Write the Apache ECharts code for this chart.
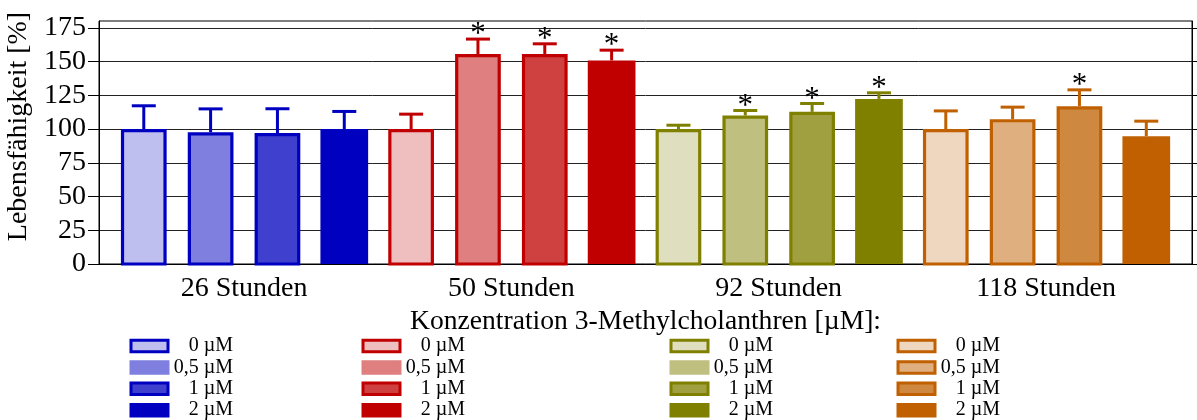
<!DOCTYPE html>
<html>
<head>
<meta charset="utf-8">
<script src="https://cdn.jsdelivr.net/npm/echarts@6/dist/echarts.min.js"></script>
<style>
  html, body { margin: 0; padding: 0; background: #fff; }
  #chart { width: 1197px; height: 420px; }
</style>
</head>
<body>
<div id="chart"></div>
<script>
// Incubation times (one group of four bars each)
const groups = ['26 Stunden', '50 Stunden', '92 Stunden', '118 Stunden'];
// 3-Methylcholanthrene concentrations within each group
const concentrations = ['0 µM', '0,5 µM', '1 µM', '2 µM'];
// Mean viability [%] per group and concentration
const viability = [
  [100, 97.6, 97, 100],
  [100, 155.5, 155.5, 150.8],
  [100, 110, 112.7, 122.3],
  [100, 107.3, 116.9, 94.7]
];
// Standard deviation (upper error bar)
const deviation = [
  [17.2, 17.3, 18, 13],
  [11, 11.1, 7.6, 7.6],
  [2.8, 3.7, 6.2, 4.5],
  [13.4, 8.9, 12.1, 11.1]
];
// Significant difference to control (asterisk)
const significant = [
  [0, 0, 0, 0],
  [0, 1, 1, 1],
  [0, 1, 1, 1],
  [0, 0, 1, 0]
];
// Y axis tick values
const yTicks = [0, 25, 50, 75, 100, 125, 150, 175];

// Colours: outline per group, fill shades per concentration
const edgeColors = ['#0000C0', '#C00000', '#808000', '#C06000'];
const fillColors = [
  ['#BFBFEF', '#7F7FDF', '#4040CF', '#0000C0'],
  ['#EFBFBF', '#DF7F7F', '#CF4040', '#C00000'],
  ['#DFDFBF', '#BFBF7F', '#A0A040', '#808000'],
  ['#EFD7BF', '#DFAF7F', '#CF8840', '#C06000']
];
// Which legend swatches carry an outline
const legendOutlined = [
  [1, 0, 1, 0],
  [1, 0, 1, 0],
  [1, 0, 1, 0],
  [1, 1, 1, 0]
];

const FONT = "'Liberation Serif', 'Times New Roman', serif";
const SLOT_OUTLINED = 0.684;   // bar width as fraction of one slot
const SLOT_SOLID = 0.714;
const BORDER = 3.2;
const CAP = 24;

const seriesName = (g, c) => groups[g] + ' / ' + concentrations[c];

const series = [];
groups.forEach((gName, g) => {
  concentrations.forEach((cName, c) => {
    const idx = g * 4 + c;
    const outlined = c < 3;
    series.push({
      type: 'custom',
      name: seriesName(g, c),
      xAxisIndex: 0,
      yAxisIndex: 0,
      itemStyle: { color: fillColors[g][c] },
      data: [[idx, viability[g][c], deviation[g][c], significant[g][c]]],
      renderItem: function (params, api) {
        const x = api.value(0), v = api.value(1), sd = api.value(2), sig = api.value(3);
        const base = api.coord([x, 0]);
        const top = api.coord([x, v]);
        const up = api.coord([x, v + sd]);
        const w = api.size([outlined ? SLOT_OUTLINED : SLOT_SOLID, 0])[0];
        const cx = base[0];
        const children = [];
        if (outlined) {
          const h = BORDER / 2;
          children.push({
            type: 'rect',
            shape: { x: cx - w / 2 + h, y: top[1] + h, width: w - BORDER, height: base[1] - top[1] - h },
            style: { fill: fillColors[g][c], stroke: edgeColors[g], lineWidth: BORDER }
          });
        } else {
          children.push({
            type: 'rect',
            shape: { x: cx - w / 2, y: top[1], width: w, height: base[1] - top[1] },
            style: { fill: fillColors[g][c] }
          });
        }
        // error bar: stem and cap
        children.push({
          type: 'line',
          shape: { x1: cx, y1: top[1], x2: cx, y2: up[1] },
          style: { stroke: edgeColors[g], lineWidth: 3 }
        });
        children.push({
          type: 'line',
          shape: { x1: cx - CAP / 2, y1: up[1], x2: cx + CAP / 2, y2: up[1] },
          style: { stroke: edgeColors[g], lineWidth: 3 }
        });
        if (sig) {
          children.push({
            type: 'text',
            style: {
              text: '*', x: cx, y: up[1] - 4, align: 'center', verticalAlign: 'middle',
              font: '31px ' + FONT, fill: '#000'
            }
          });
        }
        return { type: 'group', children: children };
      }
    });
  });
});

// One legend column per group
const legendLeft = [129.5, 361.5, 669.5, 896.5];
const legends = groups.map((gName, g) => ({
  orient: 'vertical',
  left: legendLeft[g],
  top: 336,
  height: 100,
  padding: 0,
  icon: 'rect',
  itemWidth: 37,
  itemHeight: 11.5,
  itemGap: 1.4,
  selectedMode: false,
  data: concentrations.map((cName, c) => {
    const fill = fillColors[g][c];
    return {
      name: seriesName(g, c),
      itemStyle: {
        color: fill,
        borderColor: legendOutlined[g][c] ? edgeColors[g] : fill,
        borderWidth: 3
      }
    };
  }),
  formatter: function (name) {
    return '{t|' + concentrations[concentrations.findIndex((c, i) => seriesName(g, i) === name)] + '}';
  },
  textStyle: {
    rich: {
      t: { width: 60, align: 'right', fontSize: 20, lineHeight: 14, fontFamily: FONT, color: '#000' }
    }
  }
}));

const groupCenters = groups.map((gName, g) => g * 4 + 1.5);

const option = {
  animation: false,
  backgroundColor: '#fff',
  grid: {
    left: 99, right: 5, top: 21, bottom: 156,
    show: true, borderColor: '#000', borderWidth: 1,
    outerBoundsMode: 'none'
  },
  xAxis: [{
    type: 'value',
    min: -0.67,
    max: 15.684,
    axisLine: { show: true, onZero: false, lineStyle: { color: '#000', width: 1 } },
    axisTick: { show: false },
    splitLine: { show: false },
    axisLabel: {
      customValues: groupCenters,
      formatter: v => groups[Math.round((v - 1.5) / 4)],
      margin: 11,
      fontSize: 28,
      lineHeight: 28,
      fontFamily: FONT,
      color: '#000'
    },
    name: 'Konzentration 3-Methylcholanthren [µM]:',
    nameLocation: 'middle',
    nameGap: 39,
    nameTextStyle: { fontSize: 27.6, lineHeight: 28, fontFamily: FONT, color: '#000' }
  }],
  yAxis: [{
    type: 'value',
    min: 0,
    max: 180,
    interval: 25,
    position: 'left',
    axisLine: { show: true, onZero: false, lineStyle: { color: '#000', width: 1 } },
    axisTick: { show: true, customValues: yTicks, length: 11, lineStyle: { color: '#000', width: 1 } },
    axisLabel: {
      customValues: yTicks,
      margin: 13,
      fontSize: 28,
      fontFamily: FONT,
      color: '#000'
    },
    splitLine: { show: true, lineStyle: { color: '#222', width: 1 } },
    name: 'Lebensfähigkeit [%]',
    nameLocation: 'middle',
    nameRotate: 90,
    nameGap: 57,
    nameTextStyle: { fontSize: 28, fontFamily: FONT, color: '#000', padding: [0, 0, 0, 32] }
  }, {
    type: 'value',
    min: 0,
    max: 180,
    interval: 25,
    position: 'right',
    axisLine: { show: true, onZero: false, lineStyle: { color: '#000', width: 1 } },
    axisTick: { show: true, customValues: yTicks, length: 11, lineStyle: { color: '#000', width: 1 } },
    axisLabel: { show: false },
    splitLine: { show: false }
  }],
  legend: legends,
  series: series
};

const chart = echarts.init(document.getElementById('chart'), null, { renderer: 'canvas' });
chart.setOption(option);
</script>
</body>
</html>
